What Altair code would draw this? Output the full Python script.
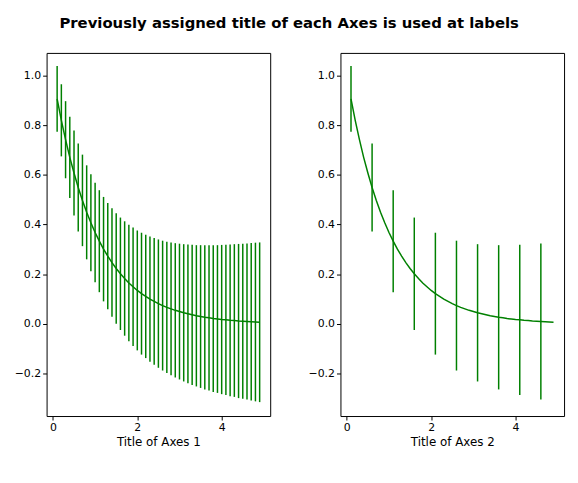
import altair as alt
import pandas as pd

xs = [round(0.1 * i, 1) for i in range(1, 50)]
ys = [0.905, 0.819, 0.741, 0.670, 0.607, 0.549, 0.497, 0.449, 0.407, 0.368,
      0.333, 0.301, 0.273, 0.247, 0.223, 0.202, 0.183, 0.165, 0.150, 0.135,
      0.122, 0.111, 0.100, 0.091, 0.082, 0.074, 0.067, 0.061, 0.055, 0.050,
      0.045, 0.041, 0.037, 0.033, 0.030, 0.027, 0.025, 0.022, 0.020, 0.018,
      0.017, 0.015, 0.014, 0.012, 0.011, 0.010, 0.009, 0.008, 0.007]
errs = [0.132, 0.145, 0.155, 0.163, 0.171, 0.177, 0.184, 0.189, 0.195, 0.200,
        0.205, 0.210, 0.214, 0.218, 0.222, 0.226, 0.230, 0.234, 0.238, 0.241,
        0.245, 0.248, 0.252, 0.255, 0.258, 0.261, 0.264, 0.267, 0.270, 0.273,
        0.276, 0.279, 0.282, 0.284, 0.287, 0.290, 0.292, 0.295, 0.297, 0.300,
        0.302, 0.305, 0.307, 0.310, 0.312, 0.314, 0.317, 0.319, 0.321]

df = pd.DataFrame({"x": xs, "y": ys, "err": errs})
df["lo"] = df["y"] - df["err"]
df["hi"] = df["y"] + df["err"]
df["i"] = range(len(df))

green = "#008000"
xdom = [-0.15, 5.15]
ydom = [-0.37, 1.09]


def yenc(field):
    return alt.Y(f"{field}:Q", title=None, scale=alt.Scale(domain=ydom, nice=False),
                 axis=alt.Axis(values=[-0.2, 0, 0.2, 0.4, 0.6, 0.8, 1.0],
                               grid=False, format=".1f"))


def panel(title, every):
    base = alt.Chart(df)
    xenc = alt.X("x:Q", title=title, scale=alt.Scale(domain=xdom, nice=False),
                 axis=alt.Axis(values=[0, 2, 4], grid=False, format="d"))
    bars = base.transform_filter(f"datum.i % {every} == 0").mark_rule(
        color=green, strokeWidth=1.5).encode(x=xenc, y=yenc("lo"), y2="hi")
    line = base.mark_line(color=green, strokeWidth=1.5).encode(x=xenc, y=yenc("y"))
    return (bars + line).properties(width=226, height=367)


chart = alt.hconcat(panel("Title of Axes 1", 1), panel("Title of Axes 2", 5),
                    spacing=36).properties(
    title=alt.TitleParams("Previously assigned title of each Axes is used at labels",
                          fontSize=15, fontWeight="bold", font="DejaVu Sans",
                          anchor="middle", offset=22)
).configure_view(stroke="black", strokeWidth=1).configure_axis(
    labelFont="DejaVu Sans", titleFont="DejaVu Sans", labelFontSize=11,
    titleFontSize=12, titleFontWeight="normal", labelColor="black",
    titleColor="black", tickColor="black", domain=False, tickSize=4
)

chart.save("out.html", embed_options={"renderer": "svg", "actions": False})
